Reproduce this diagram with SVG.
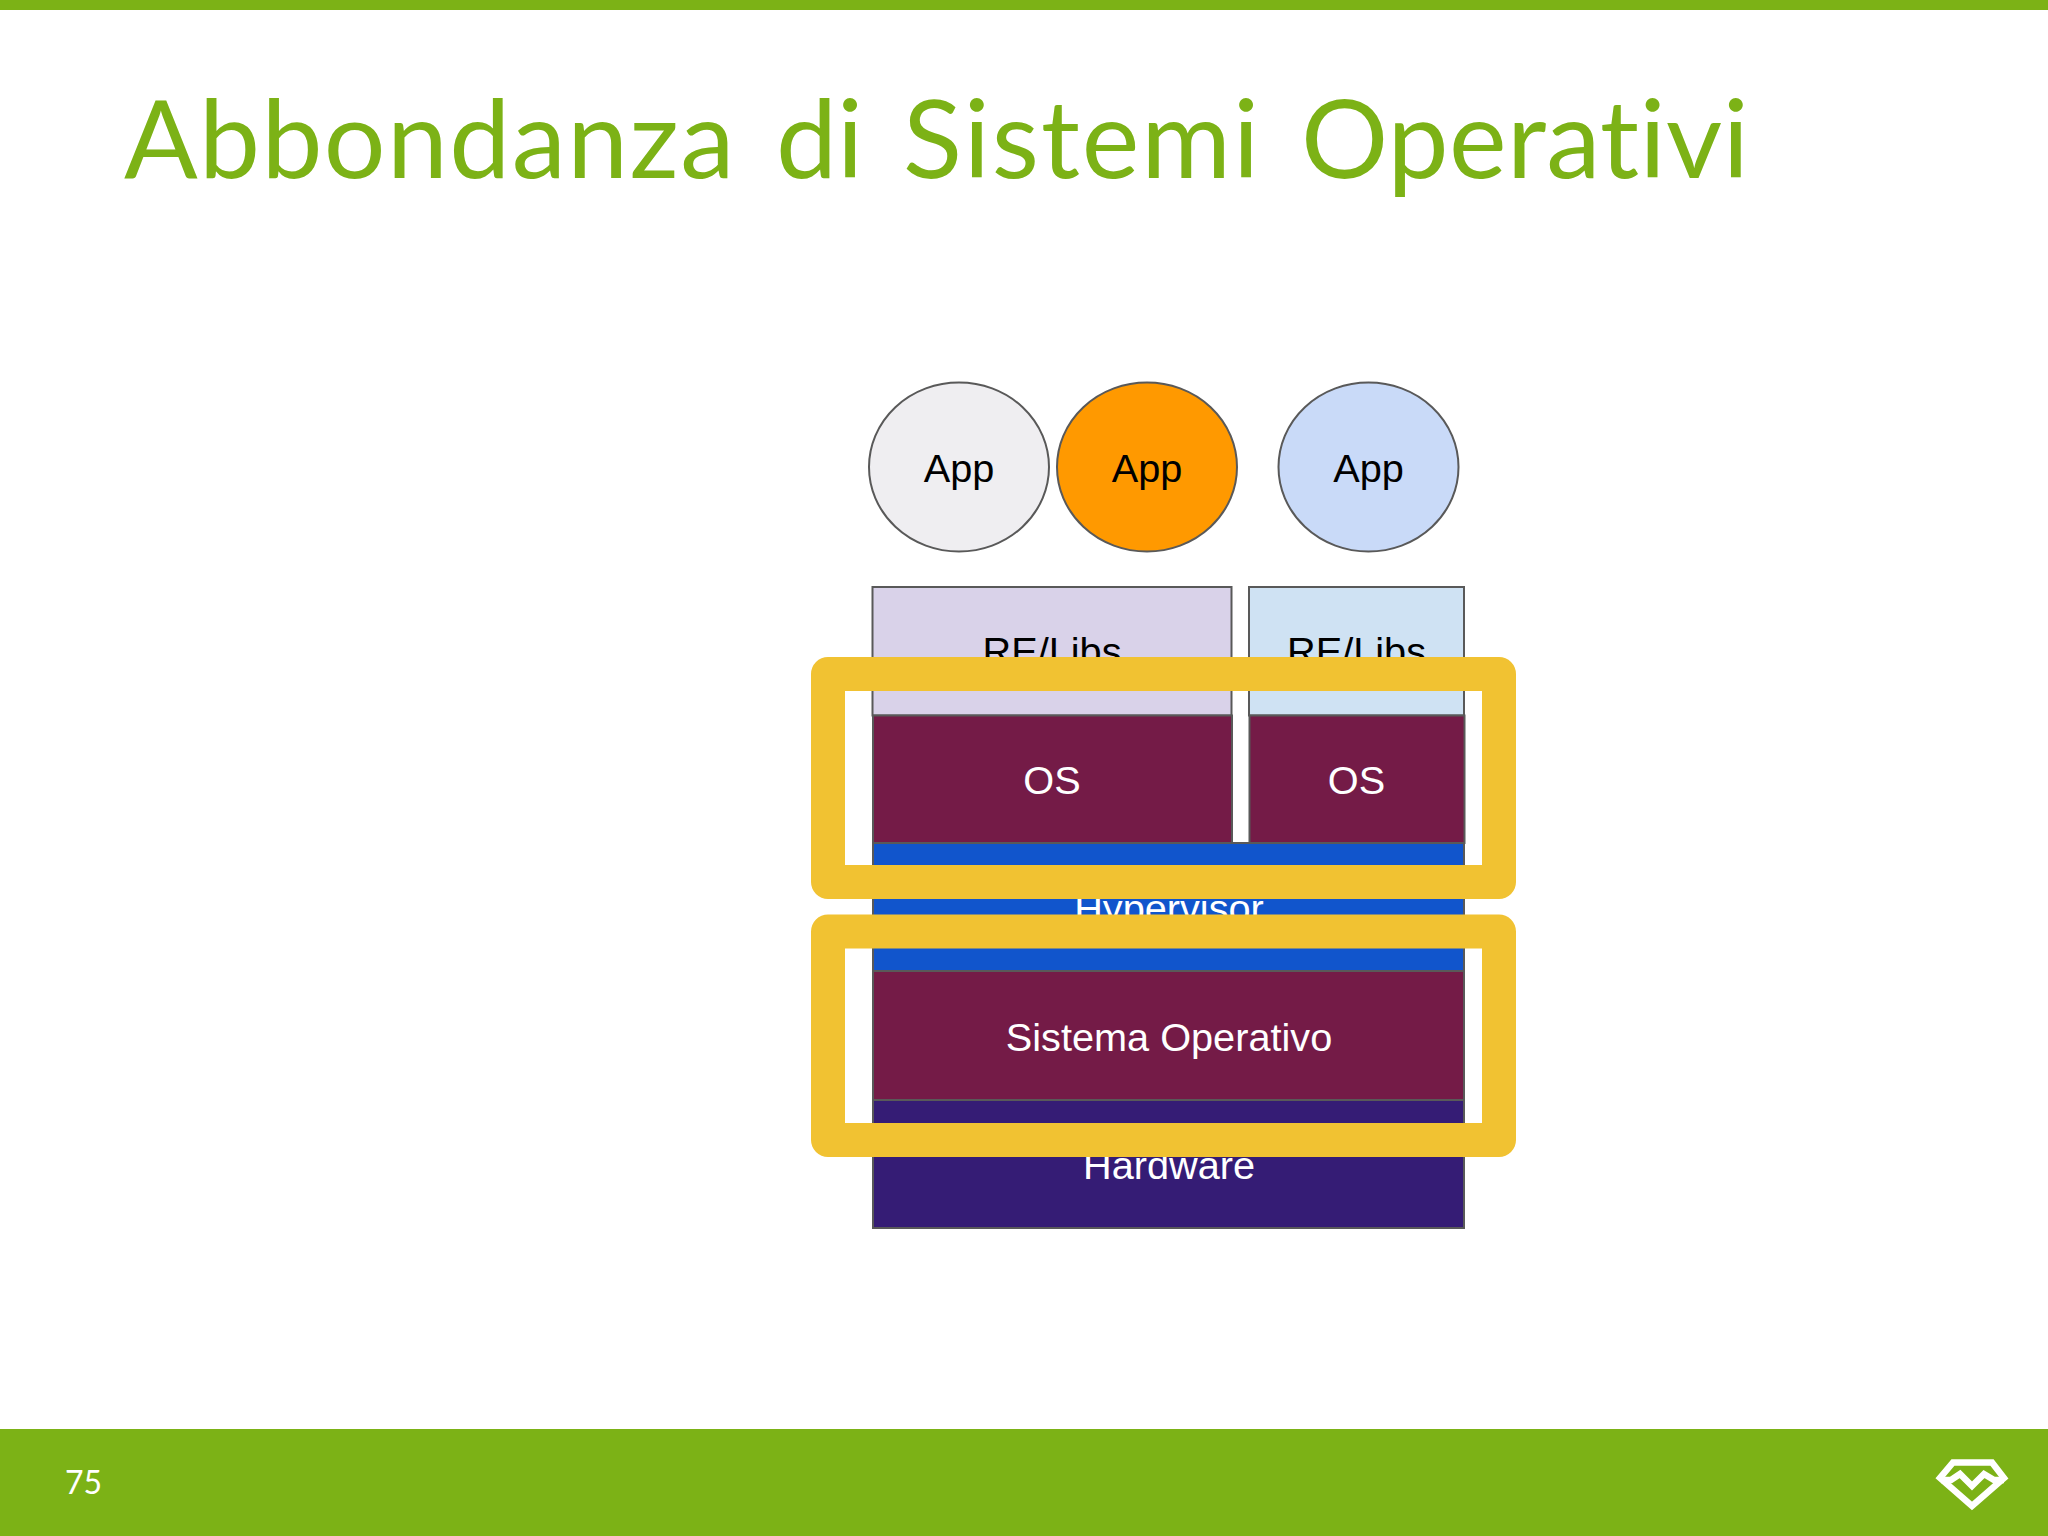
<svg xmlns="http://www.w3.org/2000/svg" width="2048" height="1536" viewBox="0 0 2048 1536">
<style>
.t{font-family:"Liberation Sans",Arial,sans-serif;font-size:39.7px;text-anchor:middle}
.d{fill:#000}.l{fill:#fff}
.s{stroke:#595959;stroke-width:2}
.h{fill:none;stroke:#f1c232;stroke-width:34;stroke-linejoin:round}
.g{fill:#7cb216}
</style>
<rect width="2048" height="1536" fill="#fff"/>
<rect id="top-bar" class="g" x="0" y="0" width="2048" height="10"/>
<text id="title" y="178" font-family="Lato,sans-serif" font-size="109" fill="#7cb216" style="font-variant-ligatures:none"><tspan x="124" letter-spacing="1.4">Abbondanza</tspan> <tspan x="776">di</tspan> <tspan x="903" letter-spacing="2">Sistemi</tspan> <tspan x="1301" letter-spacing="0.4">Operativi</tspan></text>
<g id="app1"><ellipse class="s" cx="959" cy="467" rx="90" ry="84.5" fill="#efeef1"/><text class="t d" x="959" y="482">App</text></g>
<g id="app2"><ellipse class="s" cx="1147" cy="467" rx="90" ry="84.5" fill="#ff9900"/><text class="t d" x="1147" y="482">App</text></g>
<g id="app3"><ellipse class="s" cx="1368.5" cy="467" rx="90" ry="84.5" fill="#c9daf8"/><text class="t d" x="1368.5" y="482">App</text></g>
<g id="libs1"><rect class="s" x="872.5" y="587" width="359" height="128.5" fill="#d9d2e9"/><text class="t d" x="1052" y="665">RE/Libs</text></g>
<g id="libs2"><rect class="s" x="1249" y="587" width="215" height="128.5" fill="#cfe2f3"/><text class="t d" x="1356.5" y="665">RE/Libs</text></g>
<g id="os1"><rect class="s" x="873" y="715.5" width="359" height="127.5" fill="#741b47"/><text class="t l" x="1052" y="793.5">OS</text></g>
<g id="os2"><rect class="s" x="1249.5" y="715.5" width="215" height="127.5" fill="#741b47"/><text class="t l" x="1356.5" y="793.5">OS</text></g>
<g id="hypervisor"><rect class="s" x="873" y="843" width="591" height="128" fill="#1155cc"/><text class="t l" x="1169" y="921.5">Hypervisor</text></g>
<g id="sistema-operativo"><rect class="s" x="873" y="971" width="591" height="129" fill="#741b47"/><text class="t l" x="1169" y="1051">Sistema Operativo</text></g>
<g id="hardware"><rect class="s" x="873" y="1100" width="591" height="128" fill="#351c75"/><text class="t l" x="1169" y="1179">Hardware</text></g>
<rect id="highlight-top" class="h" x="828" y="674" width="671" height="208"/>
<rect id="highlight-bottom" class="h" x="828" y="931.5" width="671" height="208.5"/>
<rect id="footer" class="g" x="0" y="1429" width="2048" height="107"/>
<text id="page-number" x="65" y="1494" font-family="Lato,sans-serif" font-size="32" fill="#fff">75</text>
<g id="logo" fill="none" stroke="#fff" stroke-width="6.5" stroke-linejoin="miter">
<path d="M1953 1462.500H1992L2004 1478L1972 1506L1940 1478Z"/>
<path d="M1941 1480H1951L1960 1474L1972 1486L1984 1474L1994 1480H2004"/>
</g>
</svg>
